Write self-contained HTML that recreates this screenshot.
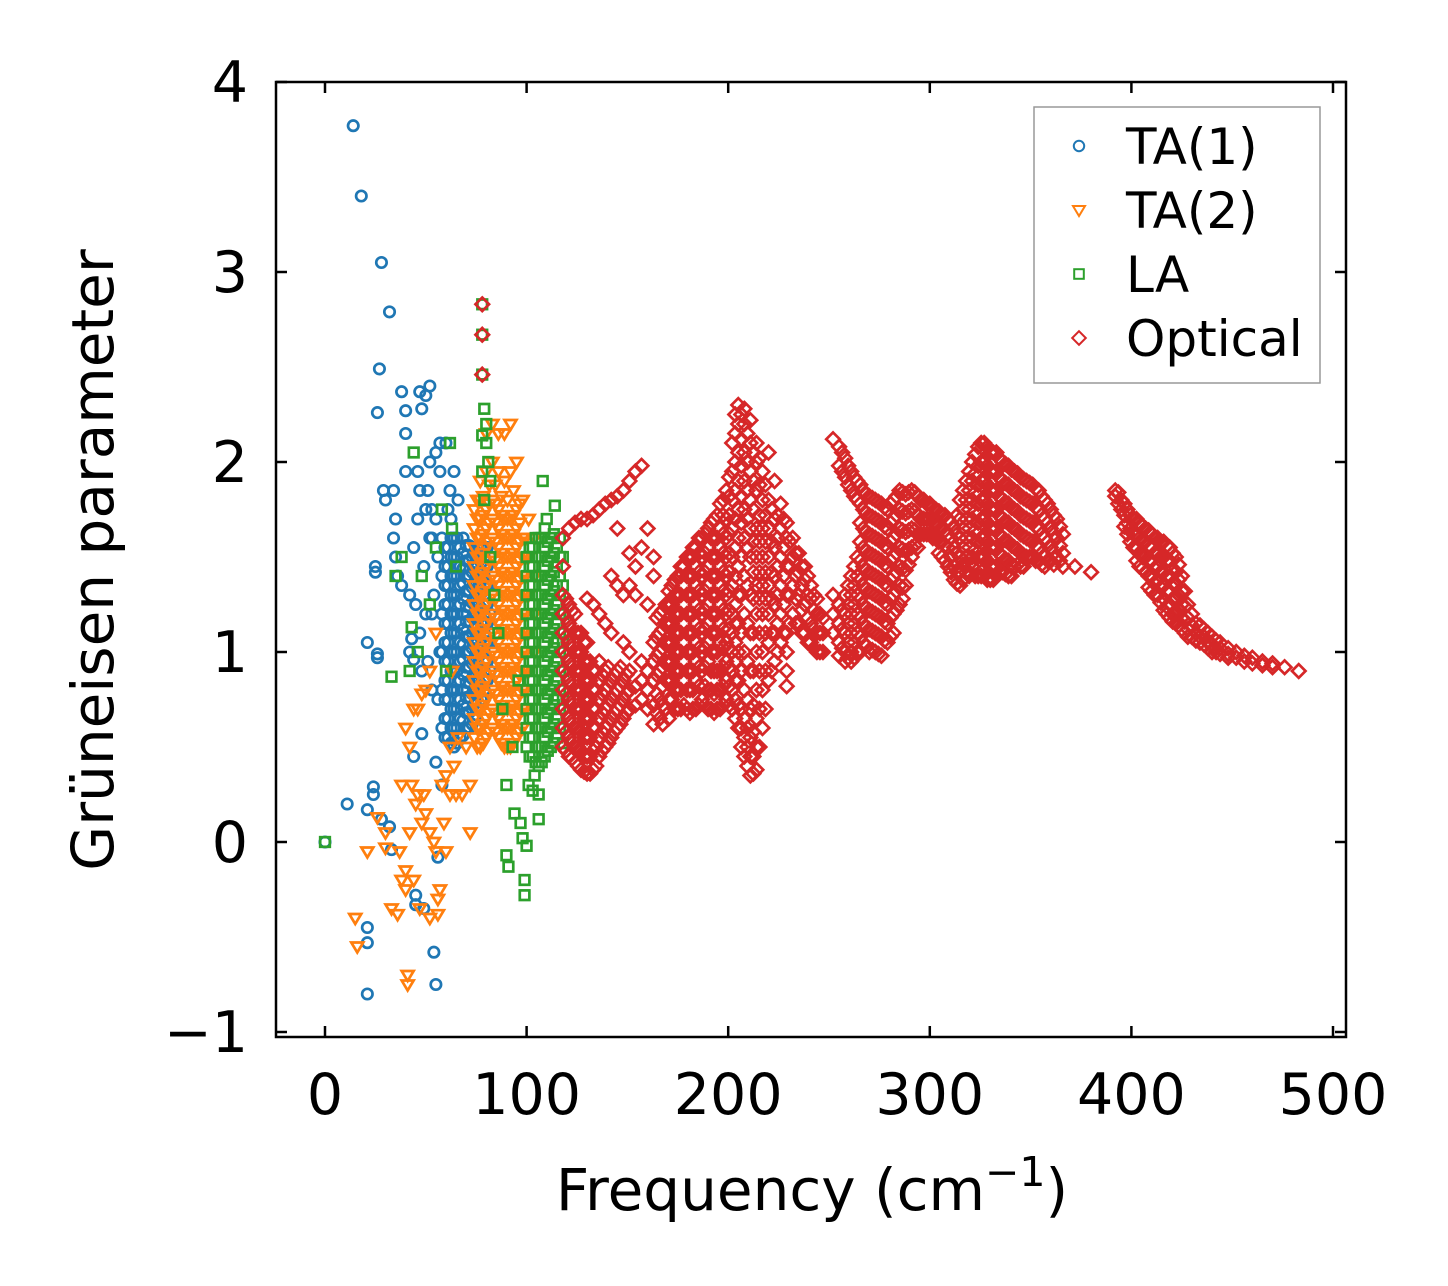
<!DOCTYPE html>
<html><head><meta charset="utf-8">
<style>
html,body{margin:0;padding:0;background:#fff;}
svg{display:block;font-family:"DejaVu Sans","Liberation Sans",sans-serif;}
</style></head>
<body>
<svg id="chart" width="1448" height="1286" viewBox="0 0 1448 1286" xmlns="http://www.w3.org/2000/svg">
<rect width="1448" height="1286" fill="#fff"/>
<g id="marks"></g>
<g id="axes"></g>
</svg>
<script>
// ---- data: columns of [frequency, [gamma values]] ----
const xTicks = [0, 100, 200, 300, 400, 500];
const yTicks = [-1, 0, 1, 2, 3, 4];
const seriesNames = ["TA(1)", "TA(2)", "LA", "Optical"];

const ta1 = [
 [0,[0]],[11,[0.2]],[14,[3.77]],[18,[3.4]],[21,[-0.8,-0.45,-0.53,0.17,1.05]],[24,[0.25,0.29]],
 [25,[1.45,1.42]],[26,[0.97,0.99,2.26]],[27,[2.49]],[28,[3.05,0.12]],[29,[1.85]],[30,[1.8]],
 [32,[2.79,0.08]],[33,[-0.04]],[34,[1.85,1.6]],[35,[1.7,1.5]],[36,[1.4]],[38,[1.35,2.37]],
 [40,[2.27,2.15,1.95]],[42,[1.0,1.3]],[43,[1.07]],[44,[0.96,0.45,1.55]],[45,[-0.28,-0.33,1.25]],
 [46,[1.95,1.7]],[47,[2.37,1.1,1.85]],[48,[2.28,0.57,0.9]],[49,[-0.35,1.45]],[50,[2.35,1.75,1.2]],
 [51,[1.85,0.95]],[52,[2.4,2.0,1.6]],[53,[1.6,1.2,0.8,1.75]],[54,[-0.58,1.3]],[55,[-0.75,0.42,1.7,2.05]],
 [56,[-0.08,1.5,0.75]],[57,[2.1,1.0,1.95]],[58,[0.3,0.6,0.8,1.0,1.2,1.4,1.6]],[60,[2.1]],
 [59.5,[0.55,0.65,0.75,0.85,0.95,1.05,1.15,1.25,1.35,1.45,1.55]],
 [61,[0.55,0.65,0.75,0.85,0.95,1.05,1.15,1.25,1.35,1.45,1.55,1.75]],[62,[1.85]],
 [62.5,[0.52,0.6,0.7,0.8,0.9,1.0,1.1,1.2,1.3,1.4,1.5,1.6,1.7]],
 [64,[0.5,0.6,0.7,0.8,0.9,1.0,1.1,1.2,1.3,1.4,1.5,1.6,1.95]],[66,[1.8]],
 [65.5,[0.52,0.6,0.7,0.8,0.9,1.0,1.1,1.2,1.3,1.4,1.5,1.6]],
 [67,[0.55,0.65,0.75,0.85,0.95,1.05,1.15,1.25,1.35,1.45,1.55]],
 [68.5,[0.56,0.64,0.72,0.8,0.88,0.96,1.04,1.12,1.2,1.28,1.36,1.44,1.52,1.6]],
 [70,[0.6,0.68,0.76,0.84,0.92,1.0,1.08,1.16,1.24,1.32,1.4,1.48,1.56]],
 [71.5,[0.6,0.68,0.76,0.84,0.92,1.0,1.08,1.16,1.24,1.32,1.4,1.48,1.56]],
 [73,[0.62,0.7,0.78,0.86,0.94,1.02,1.1,1.18,1.26,1.34,1.42,1.5]],
 [74.5,[0.65,0.73,0.81,0.89,0.97,1.05,1.13,1.21,1.29,1.37,1.45,1.53]],
 [76,[0.7,0.78,0.86,0.94,1.02,1.1,1.18,1.26,1.34,1.42,1.5,1.55]],
 [77.5,[0.75,0.83,0.91,0.99,1.07,1.15,1.23,1.31,1.39,1.47,1.55]],
 [79,[0.8,0.9,1.0,1.1,1.2,1.3,1.4,1.5]],[80.5,[0.85,0.95,1.05,1.15,1.25,1.35,1.45,1.55]],
 [82,[0.9,1.05,1.2,1.35,1.5]]
];
const ta2 = [
 [15,[-0.4]],[16,[-0.55]],[21,[-0.05]],[26,[0.13]],[30,[-0.03,0.05]],[33,[-0.35]],[36,[-0.38]],
 [37,[-0.05]],[38,[0.3,-0.2]],[40,[-0.15,-0.25,0.6]],[41,[-0.7,-0.75]],[42,[0.05,0.5]],[43,[0.3]],
 [44,[-0.2,0.7]],[45,[0.2]],[46,[0.25,0.7]],[47,[-0.35]],[48,[0.1,0.78]],[49,[0.25]],[50,[0.8,0.15]],
 [52,[0.05,-0.4,0.9]],[54,[0.0]],[55,[-0.05,1.1]],[56,[-0.3,-0.38]],[57,[-0.25]],[58,[0.3]],[59,[0.1]],
 [60,[0.35,-0.05]],[62,[0.5,0.25]],[63,[0.9]],[64,[0.4]],[65,[0.25]],[66,[0.55]],[68,[0.25]],
 [70,[0.5]],[72,[0.05,0.3]],
 [74,[0.55,0.65,0.75,0.85,0.95,1.05,1.15,1.25,1.35,1.45,1.55,1.65,1.75]],
 [75.5,[0.5,0.6,0.7,0.8,0.9,1.0,1.1,1.2,1.3,1.4,1.5,1.6,1.7,1.8]],
 [77,[0.5,0.6,0.7,0.8,0.9,1.0,1.1,1.2,1.3,1.4,1.5,1.6,1.7,1.8,1.9]],
 [78.5,[0.52,0.62,0.72,0.82,0.92,1.02,1.12,1.22,1.32,1.42,1.52,1.62,1.72,1.82]],
 [80,[0.55,0.65,0.75,0.85,0.95,1.05,1.15,1.25,1.35,1.45,1.55,1.65,1.75,1.95,2.15]],
 [81.5,[0.58,0.68,0.78,0.88,0.98,1.08,1.18,1.28,1.38,1.48,1.58,1.68,1.78,1.88]],
 [83,[0.6,0.7,0.8,0.9,1.0,1.1,1.2,1.3,1.4,1.5,1.6,1.7,1.8,2.0,2.2]],
 [84.5,[0.58,0.68,0.78,0.88,0.98,1.08,1.18,1.28,1.38,1.48,1.58,1.68,1.78,1.88]],
 [86,[0.55,0.65,0.75,0.85,0.95,1.05,1.15,1.25,1.35,1.45,1.55,1.65,1.75,1.95,2.15]],
 [87.5,[0.52,0.62,0.72,0.82,0.92,1.02,1.12,1.22,1.32,1.42,1.52,1.62,1.72,1.82]],
 [89,[0.5,0.6,0.7,0.8,0.9,1.0,1.1,1.2,1.3,1.4,1.5,1.6,1.7,1.9,2.15]],
 [90.5,[0.5,0.6,0.7,0.8,0.9,1.0,1.1,1.2,1.3,1.4,1.5,1.6,1.7,1.8]],
 [92,[0.5,0.6,0.7,0.8,0.9,1.0,1.1,1.2,1.3,1.4,1.5,1.6,1.7,1.95,2.2]],
 [93.5,[0.52,0.62,0.72,0.82,0.92,1.02,1.12,1.22,1.32,1.42,1.52,1.62,1.72,1.85]],
 [95,[0.55,0.65,0.75,0.85,0.95,1.05,1.15,1.25,1.35,1.45,1.55,1.65,1.75,2.0]],
 [96.5,[0.58,0.68,0.78,0.88,0.98,1.08,1.18,1.28,1.38,1.48,1.58,1.68,1.78]],
 [98,[0.6,0.7,0.8,0.9,1.0,1.1,1.2,1.3,1.4,1.5,1.6,1.8]],
 [99.5,[0.7,0.8,0.9,1.0,1.1,1.2,1.3,1.4,1.5,1.6]],
 [101,[0.9,1.1,1.3,1.5,1.7]],[104,[1.0,1.2,1.4,1.6]]
];
const la = [
 [0,[0]],[33,[0.87]],[35,[1.4]],[38,[1.5]],[42,[0.9]],[43,[1.13]],[44,[2.05]],[46,[1.0]],[48,[1.4]],
 [52,[1.25]],[55,[1.55]],[58,[1.75]],[60,[0.9]],[62,[2.1]],[63,[1.65]],[65,[1.45]],
 [78,[2.83,2.67,2.46,2.14,1.95]],[79,[2.28,1.8]],[80,[2.2,2.1]],[81,[2.0]],[82,[1.9,1.5]],
 [84,[1.3]],[86,[1.1]],[88,[0.7]],[90,[0.3,-0.07]],[91,[-0.13]],[93,[0.5]],[94,[0.15]],[96,[0.85]],
 [97,[0.1]],[98,[0.02]],[99,[-0.2,-0.28]],[100,[-0.02,0.5,0.6,0.7,0.8,0.9,1.0,1.1,1.2,1.3,1.4,1.5]],
 [101,[0.3]],
 [101.5,[0.45,0.55,0.65,0.75,0.85,0.95,1.05,1.15,1.25,1.35,1.45,1.55]],
 [103,[0.27,0.45,0.55,0.65,0.75,0.85,0.95,1.05,1.15,1.25,1.35,1.45,1.55]],
 [104,[0.35]],
 [104.5,[0.42,0.5,0.6,0.7,0.8,0.9,1.0,1.1,1.2,1.3,1.4,1.5,1.6]],
 [106,[0.12,0.25,0.4,0.5,0.6,0.7,0.8,0.9,1.0,1.1,1.2,1.3,1.4,1.5,1.6]],
 [107.5,[0.42,0.5,0.6,0.7,0.8,0.9,1.0,1.1,1.2,1.3,1.4,1.5,1.6]],
 [108,[1.9]],
 [109,[0.45,0.55,0.65,0.75,0.85,0.95,1.05,1.15,1.25,1.35,1.45,1.55,1.65]],
 [110,[1.7]],
 [110.5,[0.48,0.58,0.68,0.78,0.88,0.98,1.08,1.18,1.28,1.38,1.48,1.58]],
 [112,[0.5,0.6,0.7,0.8,0.9,1.0,1.1,1.2,1.3,1.4,1.5,1.6]],
 [113.5,[0.52,0.62,0.72,0.82,0.92,1.02,1.12,1.22,1.32,1.42,1.52,1.62]],
 [114,[1.77]],
 [115,[0.55,0.65,0.75,0.85,0.95,1.05,1.15,1.25,1.35,1.45,1.55]],
 [116.5,[0.6,0.7,0.8,0.9,1.0,1.1,1.2,1.3,1.4,1.5,1.6]],
 [118,[0.52,0.75,0.9,1.05,1.2,1.35,1.5]]
];
const optical = [
 [78,[2.83,2.67,2.46]],
 [118,[0.5,0.6,0.7,0.8,0.9,1.0,1.1,1.2,1.3,1.45,1.6]],
 [119.5,[0.48,0.58,0.68,0.78,0.88,0.98,1.08,1.18,1.28]],
 [121,[0.45,0.55,0.65,0.75,0.85,0.95,1.05,1.15,1.25,1.65]],
 [122.5,[0.44,0.52,0.62,0.72,0.82,0.92,1.02,1.12,1.22]],
 [124,[0.42,0.5,0.6,0.7,0.8,0.9,1.0,1.1,1.2,1.68]],
 [125.5,[0.4,0.5,0.6,0.7,0.8,0.9,1.0,1.1]],
 [127,[0.38,0.48,0.58,0.7,0.8,0.9,1.0,1.1,1.7]],
 [128.5,[0.37,0.45,0.55,0.65,0.75,0.85,0.95,1.05]],
 [130,[0.36,0.45,0.55,0.65,0.75,0.85,0.95,1.05,1.28,1.7]],
 [131.5,[0.36,0.45,0.55,0.65,0.75,0.85,0.95]],
 [133,[0.38,0.48,0.6,0.7,0.8,0.9,1.25,1.72]],
 [134.5,[0.4,0.5,0.6,0.7,0.8,0.9]],
 [136,[0.45,0.55,0.65,0.75,0.85,0.95,1.2,1.75]],
 [137.5,[0.48,0.58,0.68,0.78,0.88]],
 [139,[0.5,0.6,0.7,0.8,0.9,1.15,1.78]],
 [140.5,[0.52,0.62,0.72,0.82,0.92]],
 [142,[0.55,0.65,0.75,0.85,1.1,1.4,1.8]],
 [143.5,[0.58,0.68,0.78,0.88]],
 [145,[0.6,0.7,0.8,0.9,1.35,1.65,1.82]],
 [146.5,[0.62,0.72,0.82,0.92]],
 [148,[0.65,0.75,0.85,1.05,1.3,1.85]],
 [149.5,[0.68,0.78,0.88]],
 [151,[0.7,0.8,0.9,1.0,1.35,1.52,1.9]],
 [154,[0.72,0.82,1.3,1.45,1.95]],
 [157,[0.75,0.85,0.95,1.55,1.98]],
 [160,[0.7,0.8,0.9,1.25,1.65]],
 [163,[0.62,0.72,0.85,0.95,1.05,1.4,1.5]],
 [164.5,[0.68,0.78,0.88,0.98,1.08,1.18]],
 [166,[0.65,0.75,0.9,1.0,1.1,1.2]],
 [167.5,[0.62,0.72,0.82,0.92,1.02,1.12,1.22]],
 [169,[0.7,0.85,0.95,1.05,1.15,1.25]],
 [170.5,[0.65,0.75,0.85,0.95,1.05,1.15,1.25,1.32]],
 [172,[0.75,0.85,0.95,1.05,1.15,1.25,1.35]],
 [173.5,[0.7,0.8,0.9,1.0,1.1,1.2,1.3,1.38]],
 [175,[0.7,0.8,0.9,1.0,1.1,1.2,1.3,1.4]],
 [176.5,[0.7,0.8,0.9,1.0,1.1,1.2,1.3,1.4,1.45]],
 [178,[0.72,0.85,0.95,1.05,1.15,1.25,1.35,1.45]],
 [179.5,[0.7,0.8,0.9,1.0,1.1,1.2,1.3,1.4,1.5]],
 [181,[0.68,0.8,0.9,1.0,1.1,1.2,1.3,1.4,1.5]],
 [182.5,[0.7,0.8,0.9,1.0,1.1,1.2,1.3,1.4,1.5,1.55]],
 [184,[0.7,0.85,0.95,1.05,1.15,1.25,1.35,1.45,1.55]],
 [185.5,[0.72,0.82,0.92,1.02,1.12,1.22,1.32,1.42,1.52,1.6]],
 [187,[0.75,0.9,1.0,1.1,1.2,1.3,1.4,1.5,1.6]],
 [188.5,[0.72,0.82,0.92,1.02,1.12,1.22,1.32,1.42,1.52,1.62]],
 [190,[0.7,0.8,0.95,1.05,1.15,1.25,1.35,1.45,1.55,1.65]],
 [191.5,[0.7,0.8,0.9,1.0,1.1,1.2,1.3,1.4,1.5,1.6,1.68]],
 [193,[0.68,0.78,0.9,1.0,1.1,1.2,1.3,1.4,1.5,1.6,1.7]],
 [194.5,[0.7,0.8,0.9,1.0,1.1,1.2,1.3,1.4,1.5,1.6,1.72]],
 [196,[0.7,0.8,0.9,1.05,1.15,1.25,1.35,1.45,1.55,1.65,1.78]],
 [197.5,[0.72,0.82,0.92,1.02,1.12,1.22,1.32,1.42,1.52,1.62,1.72,1.8]],
 [199,[0.75,0.85,0.95,1.05,1.2,1.3,1.4,1.5,1.6,1.7,1.85]],
 [200.5,[0.72,0.82,0.92,1.02,1.12,1.22,1.32,1.42,1.52,1.62,1.72,1.82,1.92]],
 [202,[0.7,0.8,0.9,1.0,1.1,1.2,1.35,1.5,1.65,1.8,1.95,2.1]],
 [203.5,[0.65,0.75,0.85,0.95,1.05,1.15,1.25,1.4,1.55,1.7,1.85,2.0,2.15,2.25]],
 [205,[0.6,0.72,0.85,1.0,1.15,1.3,1.45,1.6,1.75,1.9,2.05,2.2,2.3]],
 [206.5,[0.5,0.6,0.7,0.9,1.1,1.3,1.5,1.68,1.82,1.98,2.12,2.25]],
 [208,[0.45,0.55,0.65,0.8,1.0,1.2,1.4,1.6,1.75,1.9,2.05,2.2,2.28]],
 [209.5,[0.4,0.5,0.6,0.75,0.95,1.15,1.35,1.55,1.7,1.85,2.0,2.15]],
 [211,[0.35,0.45,0.55,0.7,0.9,1.1,1.3,1.5,1.65,1.8,1.95,2.1,2.22]],
 [212.5,[0.36,0.45,0.58,0.72,0.9,1.1,1.28,1.42,1.58,1.75,1.9,2.05]],
 [214,[0.38,0.5,0.65,0.8,1.0,1.2,1.35,1.5,1.65,1.85,2.0,2.1]],
 [215.5,[0.5,0.7,0.9,1.1,1.28,1.42,1.58,1.72,1.88,2.02]],
 [217,[0.6,0.8,1.0,1.2,1.35,1.5,1.65,1.8,1.95]],
 [218.5,[0.7,0.9,1.1,1.28,1.42,1.58,1.72,1.88]],
 [220,[0.85,1.05,1.2,1.35,1.5,1.65,1.8,2.05]],
 [221.5,[0.9,1.1,1.28,1.42,1.58,1.75]],
 [223,[0.95,1.1,1.25,1.4,1.55,1.7,1.9]],
 [224.5,[1.0,1.15,1.3,1.45,1.6,1.72]],
 [226,[1.05,1.2,1.35,1.5,1.65,1.78]],
 [227.5,[1.1,1.25,1.4,1.55,1.7]],
 [229,[0.82,0.9,1.0,1.1,1.3,1.45,1.6,1.68]],
 [230.5,[1.15,1.3,1.45,1.58]],
 [232,[1.2,1.35,1.5,1.6]],[233.5,[1.15,1.28,1.4,1.52]],[235,[1.15,1.3,1.42,1.52]],
 [236.5,[1.1,1.22,1.35,1.45]],[238,[1.1,1.25,1.38,1.45]],[239.5,[1.05,1.18,1.3,1.4]],
 [241,[1.05,1.15,1.28,1.35]],[242.5,[1.02,1.12,1.22,1.3]],[244,[1.0,1.1,1.2,1.28]],
 [245.5,[1.0,1.1,1.2]],[247,[1.0,1.1,1.18]],
 [252,[2.12,1.3,1.2,1.1]],[255,[2.08,1.98,1.25,1.15,1.05,0.98]],
 [256.5,[2.05,1.95,1.22,1.12,1.02]],
 [258,[2.02,1.92,1.3,1.2,1.1,1.0,0.95]],
 [259.5,[1.98,1.88,1.35,1.25,1.15,1.05,0.97]],
 [261,[1.95,1.85,1.4,1.3,1.2,1.1,1.0,0.95]],
 [262.5,[1.92,1.82,1.45,1.35,1.25,1.15,1.05,0.97]],
 [264,[1.9,1.8,1.5,1.4,1.3,1.2,1.1,1.0]],
 [265.5,[1.88,1.78,1.68,1.58,1.48,1.38,1.28,1.18,1.08,1.0]],
 [267,[1.85,1.75,1.65,1.55,1.45,1.35,1.25,1.15,1.05]],
 [268.5,[1.83,1.73,1.63,1.53,1.43,1.33,1.23,1.13,1.03]],
 [270,[1.82,1.72,1.62,1.52,1.42,1.32,1.22,1.12,1.0]],
 [271.5,[1.81,1.71,1.61,1.51,1.41,1.31,1.21,1.11,1.01]],
 [273,[1.8,1.7,1.6,1.5,1.4,1.3,1.2,1.1,1.0]],
 [274.5,[1.79,1.69,1.59,1.49,1.39,1.29,1.19,1.09,0.99]],
 [276,[1.78,1.68,1.58,1.48,1.38,1.28,1.18,1.08,0.98]],
 [277.5,[1.76,1.66,1.56,1.46,1.36,1.26,1.16,1.06]],
 [279,[1.75,1.65,1.55,1.45,1.35,1.25,1.15,1.05]],
 [280.5,[1.78,1.68,1.58,1.48,1.38,1.28,1.18,1.08]],
 [282,[1.8,1.7,1.6,1.5,1.4,1.3,1.2,1.1]],
 [283.5,[1.82,1.72,1.62,1.52,1.42,1.32,1.22]],
 [285,[1.85,1.75,1.65,1.55,1.45,1.35,1.25]],
 [286.5,[1.84,1.74,1.64,1.54,1.44,1.34,1.28]],
 [288,[1.83,1.73,1.63,1.53,1.43,1.35]],
 [289.5,[1.84,1.74,1.64,1.54,1.46]],
 [291,[1.85,1.75,1.65,1.55,1.5]],[292.5,[1.84,1.74,1.64,1.56]],
 [294,[1.82,1.72,1.62,1.55]],[295.5,[1.8,1.7,1.62]],[297,[1.8,1.7,1.62]],[298.5,[1.78,1.7,1.62]],
 [300,[1.78,1.7,1.62]],[301.5,[1.76,1.68,1.6]],[303,[1.75,1.68,1.6]],[304.5,[1.74,1.66,1.58,1.52]],
 [306,[1.72,1.65,1.58,1.5]],[307.5,[1.72,1.64,1.56,1.48]],
 [309,[1.7,1.62,1.55,1.45]],[310.5,[1.68,1.6,1.5,1.42]],[312,[1.65,1.55,1.45,1.38]],
 [313.5,[1.72,1.62,1.52,1.42,1.36]],
 [315,[1.8,1.7,1.6,1.5,1.42,1.35]],[316.5,[1.85,1.75,1.65,1.55,1.46,1.38]],
 [318,[1.9,1.8,1.7,1.6,1.5,1.42]],[319.5,[1.95,1.85,1.75,1.65,1.55,1.46,1.4]],
 [321,[2.0,1.9,1.8,1.7,1.6,1.5,1.45]],[322.5,[2.04,1.94,1.84,1.74,1.64,1.54,1.46,1.4]],
 [324,[2.08,1.98,1.88,1.78,1.68,1.58,1.5,1.4]],[325.5,[2.1,2.0,1.9,1.8,1.7,1.6,1.5,1.4]],
 [327,[2.1,2.0,1.9,1.8,1.7,1.6,1.5,1.4]],[328.5,[2.08,1.98,1.88,1.78,1.68,1.58,1.48,1.38]],
 [330,[2.05,1.95,1.85,1.75,1.65,1.55,1.45,1.38]],[331.5,[2.05,1.95,1.85,1.75,1.65,1.55,1.45,1.38]],
 [333,[2.05,1.95,1.85,1.75,1.65,1.55,1.45,1.4]],[334.5,[2.02,1.92,1.82,1.72,1.62,1.52,1.42]],
 [336,[2.0,1.9,1.8,1.7,1.6,1.5,1.42]],[337.5,[1.99,1.89,1.79,1.69,1.59,1.49,1.41]],
 [339,[1.98,1.88,1.78,1.68,1.58,1.48,1.4]],[340.5,[1.96,1.86,1.76,1.66,1.56,1.46,1.4]],
 [342,[1.95,1.85,1.75,1.65,1.55,1.45]],[343.5,[1.94,1.84,1.74,1.64,1.54,1.46]],
 [345,[1.92,1.82,1.72,1.62,1.52,1.45]],[346.5,[1.91,1.81,1.71,1.61,1.51,1.45]],
 [348,[1.9,1.8,1.7,1.6,1.5]],[349.5,[1.89,1.79,1.69,1.59,1.5]],
 [351,[1.88,1.78,1.68,1.58,1.5]],[352.5,[1.86,1.76,1.66,1.56,1.48]],
 [354,[1.85,1.75,1.65,1.55,1.48]],[355.5,[1.82,1.72,1.62,1.52,1.46]],
 [357,[1.8,1.7,1.6,1.5,1.45]],[358.5,[1.78,1.68,1.58,1.48]],
 [360,[1.75,1.65,1.55,1.48]],[361.5,[1.72,1.62,1.52,1.46]],[363,[1.7,1.6,1.5]],
 [364.5,[1.66,1.56,1.48]],[366,[1.62,1.52,1.45]],[372,[1.45]],[380,[1.42]],
 [392,[1.85,1.82]],[393.5,[1.84,1.78]],[395,[1.8,1.75]],[396.5,[1.78,1.72,1.66]],
 [398,[1.75,1.68,1.62]],[399.5,[1.72,1.65,1.58]],[401,[1.7,1.62,1.55]],
 [402.5,[1.7,1.62,1.55,1.48]],[404,[1.68,1.6,1.52,1.45]],[405.5,[1.66,1.58,1.5,1.44]],
 [407,[1.65,1.58,1.5,1.42]],[408.5,[1.64,1.56,1.48,1.4,1.34]],
 [410,[1.62,1.55,1.48,1.4,1.32]],[411.5,[1.6,1.52,1.44,1.36,1.3]],
 [413,[1.6,1.52,1.45,1.38,1.3]],[414.5,[1.58,1.5,1.42,1.34,1.26]],
 [416,[1.58,1.5,1.42,1.35,1.28,1.22]],[417.5,[1.56,1.48,1.4,1.32,1.24,1.2]],
 [419,[1.55,1.48,1.4,1.32,1.25,1.18]],[420.5,[1.52,1.44,1.36,1.28,1.2,1.16]],
 [422,[1.5,1.42,1.35,1.28,1.2,1.15]],[423.5,[1.46,1.38,1.3,1.22,1.14]],
 [425,[1.4,1.32,1.25,1.18,1.12]],[426.5,[1.32,1.24,1.16,1.1]],
 [428,[1.25,1.18,1.12,1.08]],[430,[1.2,1.14,1.08]],[432,[1.15,1.1,1.06]],[434,[1.14,1.08,1.05]],
 [436,[1.12,1.08,1.04]],[438,[1.1,1.05,1.02]],[440,[1.08,1.04,1.0]],[442,[1.06,1.02,1.0]],
 [444,[1.05,1.02,0.99]],[448,[1.02,0.99,0.97]],
 [452,[1.0,0.97]],[456,[0.98,0.95]],[460,[0.97,0.94]],[465,[0.95,0.93]],[470,[0.94,0.92]],
 [476,[0.92]],[483,[0.9]]
];

// ---- scales ----
const X0 = 325, XS = 2.016;   // px per cm^-1
const Y0 = 842, YS = 190;     // px per unit gamma
function xs(v){ return X0 + v * XS; }
function ys(v){ return Y0 - v * YS; }

const NS = "http://www.w3.org/2000/svg";
function mk(tag, attrs, parent){
  const e = document.createElementNS(NS, tag);
  for (const k in attrs) e.setAttribute(k, attrs[k]);
  parent.appendChild(e);
  return e;
}
const colors = ["#1f77b4", "#ff7f0e", "#2ca02c", "#d62728"];
const shapes = ["circle", "tri", "square", "diamond"];
function marker(shape, cx, cy, col, parent){
  let e;
  if (shape === "circle") e = mk("circle", {cx:cx, cy:cy, r:5.2}, parent);
  else if (shape === "tri") e = mk("polygon", {points:`${cx-6},${cy-4} ${cx+6},${cy-4} ${cx},${cy+6}`}, parent);
  else if (shape === "square") e = mk("rect", {x:cx-4.8, y:cy-4.8, width:9.6, height:9.6}, parent);
  else e = mk("polygon", {points:`${cx},${cy-6.8} ${cx+6.8},${cy} ${cx},${cy+6.8} ${cx-6.8},${cy}`}, parent);
  e.setAttribute("fill", "none");
  e.setAttribute("stroke", col);
  e.setAttribute("stroke-width", "2.7");
  return e;
}

const marks = document.getElementById("marks");
const allSeries = [ta1, ta2, la, optical];
const seriesKeys = ["ta1", "ta2", "la", "optical"];
allSeries.forEach((s, i) => {
  const g = mk("g", {}, marks);
  
  
  s.forEach(col => {
    col[1].forEach(gv => {
      const m = marker(shapes[i], xs(col[0]), ys(gv), colors[i], g);
      
      
    });
  });
});

// ---- axes ----
const axes = document.getElementById("axes");
const L = 276, R = 1346, T = 82, B = 1037;
const frame = mk("rect", {x:L, y:T, width:R-L, height:B-T, fill:"none", stroke:"#000", "stroke-width":2.5}, axes);



xTicks.forEach(v => {
  const x = xs(v);
  mk("line", {x1:x, x2:x, y1:B, y2:B-11, stroke:"#000", "stroke-width":2.5}, axes);
  mk("line", {x1:x, x2:x, y1:T, y2:T+11, stroke:"#000", "stroke-width":2.5}, axes);
  const t = mk("text", {x:x, y:1114, "text-anchor":"middle", "font-size":57, fill:"#000"}, axes);
  t.textContent = String(v);
  
  
});
yTicks.forEach(v => {
  const y = ys(v);
  mk("line", {x1:L, x2:L+11, y1:y, y2:y, stroke:"#000", "stroke-width":2.5}, axes);
  mk("line", {x1:R, x2:R-11, y1:y, y2:y, stroke:"#000", "stroke-width":2.5}, axes);
  const t = mk("text", {x:248, y:y+20, "text-anchor":"end", "font-size":57, fill:"#000"}, axes);
  t.textContent = v < 0 ? "\u2212" + Math.abs(v) : String(v);
  
  
});

const xl = mk("text", {x:812, y:1210, "text-anchor":"middle", "font-size":58, fill:"#000"}, axes);
xl.innerHTML = 'Frequency (cm<tspan dy="-24" font-size="41">\u22121</tspan><tspan dy="24">)</tspan>';


const yl = mk("text", {x:0, y:0, "text-anchor":"middle", "font-size":58, fill:"#000", transform:"translate(113,560) rotate(-90)"}, axes);
yl.textContent = "Grüneisen parameter";



// ---- legend ----
const lg = mk("g", {}, axes);


mk("rect", {x:1034, y:107, width:286, height:276, fill:"#fff", "fill-opacity":0.8, stroke:"#999", "stroke-width":1.5}, lg);
seriesNames.forEach((n, i) => {
  const y = 146 + i * 64;
  const e = mk("g", {}, lg);
  
  
  const m = marker(shapes[i], 1079, y, colors[i], e);
  m.setAttribute("stroke-width", "2");
  const t = mk("text", {x:1126, y:y+18, "font-size":50, fill:"#000"}, e);
  t.textContent = n;
});
</script>
</body></html>
